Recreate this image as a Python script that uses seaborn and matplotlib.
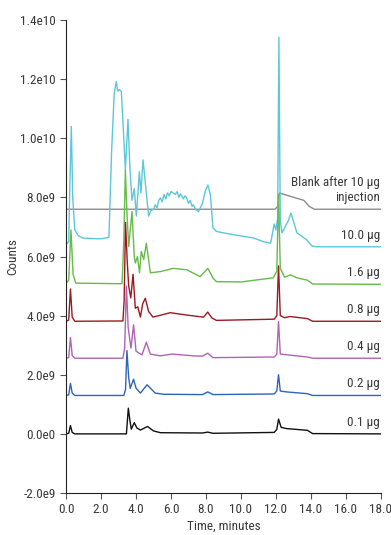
import matplotlib
matplotlib.use("Agg")
import numpy as np
import pandas as pd
import seaborn as sns
from matplotlib import pyplot as plt
from matplotlib import font_manager
from matplotlib.ticker import FuncFormatter

# retention times (min) and signals (in 1e9 counts)
t_01 = [0, 0.15, 0.25, 0.35, 0.5, 3.45, 3.56, 3.65, 3.73, 3.9, 4.05, 4.25, 4.66, 5.0, 5.4,
        7.8, 8.1, 8.4, 11.9, 12.05, 12.15, 12.3, 12.6, 13.8, 14.1, 18]
v_01 = [0, 0.02, 0.28, 0.05, 0.0, 0.0, 0.87, 0.45, 0.16, 0.38, 0.2, 0.13, 0.25, 0.1, 0.04,
        0.03, 0.06, 0.02, 0.05, 0.15, 0.5, 0.22, 0.18, 0.12, 0.01, 0.0]

t_02 = [0, 0.15, 0.25, 0.35, 0.5, 3.3, 3.4, 3.48, 3.58, 3.67, 3.86, 4.0, 4.25, 4.63, 5.1, 5.6,
        7.8, 8.1, 8.4, 11.9, 12.05, 12.15, 12.25, 12.6, 13.8, 14.1, 18]
v_02 = [1.3, 1.32, 1.71, 1.38, 1.3, 1.3, 1.5, 2.82, 1.9, 1.54, 1.85, 1.55, 1.38, 1.66, 1.38, 1.34,
        1.33, 1.42, 1.33, 1.35, 1.45, 2.0, 1.45, 1.42, 1.36, 1.3, 1.3]

t_04 = [0, 0.15, 0.25, 0.35, 0.5, 3.25, 3.35, 3.45, 3.55, 3.71, 3.86, 4.0, 4.34, 4.59, 4.82,
        5.39, 6.06, 7.3, 7.8, 8.1, 8.4, 11.9, 12.05, 12.15, 12.25, 13.8, 14.1, 18]
v_04 = [2.56, 2.58, 3.26, 2.65, 2.56, 2.56, 2.9, 5.0, 3.6, 2.9, 3.69, 2.8, 2.67, 3.1, 2.7,
        2.64, 2.7, 2.64, 2.63, 2.73, 2.58, 2.6, 2.7, 3.8, 2.7, 2.6, 2.56, 2.56]

t_08 = [0, 0.15, 0.25, 0.35, 0.5, 3.25, 3.32, 3.4, 3.5, 3.58, 3.7, 3.83, 3.96, 4.1, 4.25, 4.38,
        4.53, 4.72, 4.97, 5.96, 6.9, 7.86, 8.1, 8.34, 8.6, 11.9, 12.05, 12.15, 12.25, 12.5, 12.8,
        13.8, 14.1, 18]
v_08 = [3.81, 3.85, 4.9, 3.95, 3.81, 3.82, 4.5, 7.15, 5.8, 5.0, 4.6, 5.4, 4.25, 4.3, 3.95, 4.4,
        4.59, 4.14, 3.95, 4.1, 4.02, 3.95, 4.12, 3.92, 3.84, 3.88, 4.0, 5.68, 4.0, 3.93, 3.97,
        3.9, 3.81, 3.81]

t_16 = [0, 0.15, 0.28, 0.4, 0.55, 3.2, 3.3, 3.39, 3.48, 3.58, 3.77, 3.9, 3.96, 4.08, 4.2, 4.3,
        4.44, 4.59, 4.82, 5.39, 6.13, 6.91, 7.67, 8.11, 8.4, 8.6, 10, 11.85, 12.05, 12.15, 12.25,
        12.5, 12.83, 13.2, 13.8, 14.1, 18]
v_16 = [5.1, 5.2, 6.9, 5.4, 5.1, 5.08, 6.5, 8.93, 7.5, 6.34, 7.52, 6.0, 5.78, 6.0, 5.45, 6.17,
        5.9, 6.45, 5.45, 5.49, 5.6, 5.55, 5.32, 5.6, 5.27, 5.15, 5.14, 5.28, 5.5, 8.1, 5.6,
        5.3, 5.38, 5.28, 5.2, 5.07, 5.06]

t_100 = [0, 0.15, 0.22, 0.3, 0.38, 0.5, 0.7, 1.0, 2.0, 2.45, 2.6, 2.75, 2.87, 2.95, 3.05, 3.16,
         3.3, 3.39, 3.54, 3.65, 3.77, 3.9, 4.02, 4.19, 4.28, 4.4, 4.59, 4.72, 4.85, 5.0, 5.1,
         5.2, 5.3, 5.39, 5.5, 5.6, 5.7, 5.8, 5.9, 6.0, 6.13, 6.25, 6.35, 6.45, 6.55, 6.7,
         6.8, 6.9, 7.0, 7.1, 7.2, 7.28, 7.4, 7.57, 7.8, 7.95, 8.11, 8.25, 8.4, 8.6,
         9.0, 9.96, 10.7, 11.3, 11.7, 11.9, 12.0, 12.1, 12.17, 12.25, 12.35, 12.5, 12.7,
         12.86, 13.0, 13.2, 13.77, 14.05, 14.3, 18]
v_100 = [6.4, 6.5, 8.5, 10.4, 8.0, 6.9, 6.7, 6.62, 6.6, 6.65, 9.5, 11.5, 11.92, 11.6, 11.65, 11.58,
         10.0, 8.93, 10.64, 9.0, 7.9, 8.3, 7.37, 8.87, 8.15, 9.27, 8.15, 7.37, 7.55, 7.6, 7.75,
         7.65, 7.9, 7.98, 7.85, 8.1, 7.95, 8.15, 8.05, 8.2, 8.15, 8.1, 8.2, 8.0, 8.12, 7.95,
         8.05, 7.98, 7.8, 7.9, 7.7, 7.75, 7.6, 7.52, 7.8, 8.2, 8.42, 8.1, 6.97, 6.85,
         6.8, 6.7, 6.63, 6.5, 6.45, 7.1, 6.9, 7.3, 13.42, 7.2, 6.8, 6.97, 7.2,
         7.47, 7.2, 6.8, 6.56, 6.36, 6.33, 6.33]

t_blank = [0, 11.95, 12.1, 12.2, 13.6, 13.9, 14.2, 18]
v_blank = [7.6, 7.6, 7.7, 8.15, 7.9, 7.7, 7.6, 7.6]

labels = ["0.1 µg", "0.2 µg", "0.4 µg", "0.8 µg", "1.6 µg", "10.0 µg",
          "Blank after 10 µg\ninjection"]
colors = ["#111111", "#2f63b6", "#b262b4", "#9a1a1f", "#66bb4a", "#5cc7d8", "#8c8c8c"]
series = [(t_01, v_01), (t_02, v_02), (t_04, v_04), (t_08, v_08), (t_16, v_16),
          (t_100, v_100), (t_blank, v_blank)]
# draw order: blank behind cyan, low amounts on top
order = [6, 5, 4, 3, 2, 1, 0]

yticks = [-2e9, 0, 2e9, 4e9, 6e9, 8e9, 1e10, 1.2e10, 1.4e10]
ytick_labels = ["-2.0e9", "0.0e0", "2.0e9", "4.0e9", "6.0e9", "8.0e9", "1.0e10", "1.2e10", "1.4e10"]


def pick_font():
    names = {f.name for f in font_manager.fontManager.ttflist}
    for n in ["Liberation Sans Narrow", "Roboto Condensed", "Roboto"]:
        if n in names:
            return n
    return "DejaVu Sans"


def main():
    sns.set_style("ticks")
    plt.rcParams['font.family'] = [pick_font(), 'DejaVu Sans']
    text_color = "#3a3a3a"

    fig = plt.figure(figsize=(3.91, 5.35), dpi=100)
    ax = fig.add_axes([0.169, 0.0785, 0.805, 0.884])

    for i in order:
        t, v = series[i]
        df = pd.DataFrame({"time": t, "counts": np.array(v) * 1e9})
        sns.lineplot(data=df, x="time", y="counts", color=colors[i], linewidth=1.0,
                     sort=False, ax=ax)
        ax.text(17.95, v[-1] * 1e9 + 0.17e9, labels[i], ha="right", va="bottom",
                fontsize=9.5, color=text_color, linespacing=1.25)

    ax.set_xlim(0, 18)
    ax.set_ylim(-2e9, 1.4e10)
    ax.set_xticks(np.arange(0, 19, 2))
    ax.xaxis.set_major_formatter(FuncFormatter(lambda x, p: "%.1f" % x))
    ax.set_yticks(yticks)
    ax.set_yticklabels(ytick_labels)
    ax.tick_params(axis="both", labelsize=9.5, labelcolor=text_color, color="#555555",
                   length=4, width=0.8)
    ax.set_xlabel("Time, minutes", fontsize=9.5, color=text_color)
    ax.set_ylabel("Counts", fontsize=9.5, color=text_color)
    ax.xaxis.set_label_coords(0.5, -0.057)
    ax.yaxis.set_label_coords(-0.15, 0.5)
    sns.despine(ax=ax)
    ax.spines["left"].set_color("#222222")
    ax.spines["bottom"].set_color("#222222")

    fig.savefig("out.png", dpi=100)


if __name__ == "__main__":
    main()
